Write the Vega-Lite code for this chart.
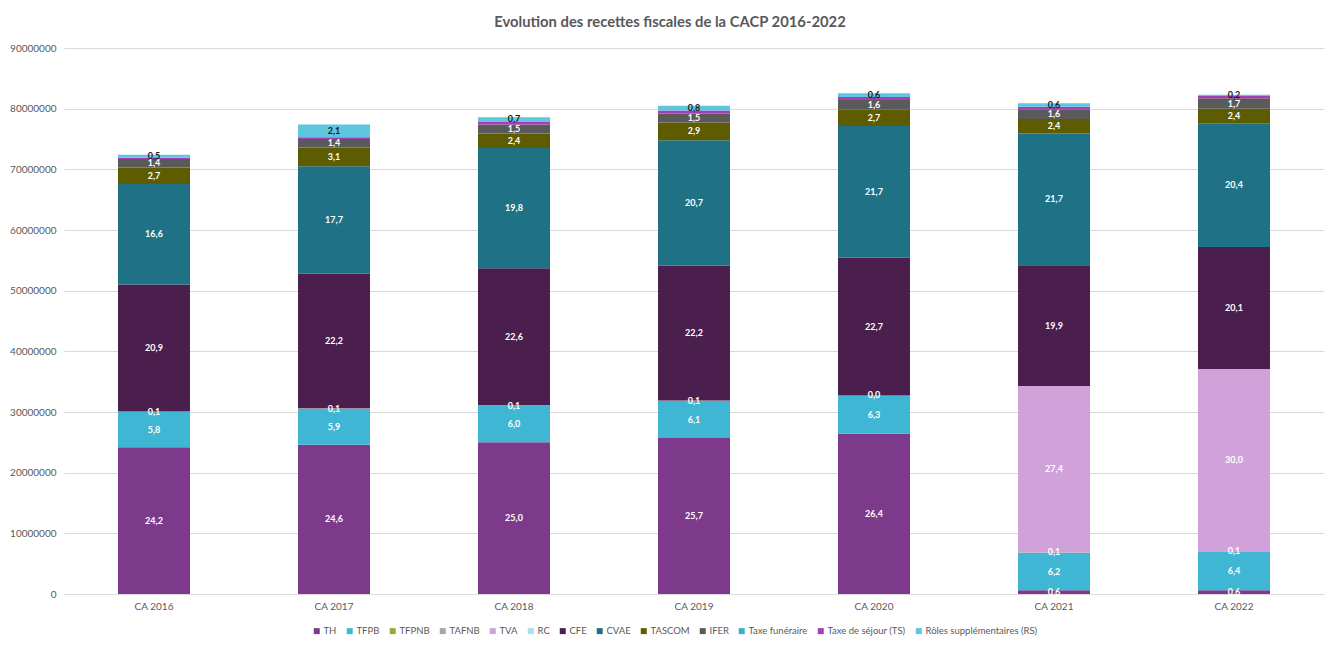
{
  "$schema": "https://vega.github.io/schema/vega-lite/v6.json",
  "autosize": "none",
  "width": 1260,
  "height": 546,
  "padding": {"left": 64, "top": 48, "right": 17, "bottom": 52},
  "background": "white",
  "config": {
    "font": "Lato",
    "view": {"stroke": null},
    "locale": {"number": {"decimal": ",", "thousands": " ", "grouping": [3], "currency": ["", " €"]}}
  },
  "title": {"text": "Evolution des recettes fiscales de la CACP 2016-2022", "fontSize": 14.8, "fontWeight": "bold", "color": "#595959", "anchor": "middle", "dx": -24, "offset": 13, "font": "Lato"},
  "data": {"values": [
    {"cat": "CA 2016", "s": "TH", "k": 1, "v": 24.2},
    {"cat": "CA 2016", "s": "TFPB", "k": 2, "v": 5.8},
    {"cat": "CA 2016", "s": "TAFNB", "k": 4, "v": 0.1},
    {"cat": "CA 2016", "s": "CFE", "k": 7, "v": 20.9},
    {"cat": "CA 2016", "s": "CVAE", "k": 8, "v": 16.6},
    {"cat": "CA 2016", "s": "TASCOM", "k": 9, "v": 2.7},
    {"cat": "CA 2016", "s": "IFER", "k": 10, "v": 1.4},
    {"cat": "CA 2016", "s": "Taxe de séjour (TS)", "k": 12, "v": 0.2},
    {"cat": "CA 2016", "s": "Rôles supplémentaires (RS)", "k": 13, "v": 0.5},
    {"cat": "CA 2017", "s": "TH", "k": 1, "v": 24.6},
    {"cat": "CA 2017", "s": "TFPB", "k": 2, "v": 5.9},
    {"cat": "CA 2017", "s": "TAFNB", "k": 4, "v": 0.1},
    {"cat": "CA 2017", "s": "CFE", "k": 7, "v": 22.2},
    {"cat": "CA 2017", "s": "CVAE", "k": 8, "v": 17.7},
    {"cat": "CA 2017", "s": "TASCOM", "k": 9, "v": 3.1},
    {"cat": "CA 2017", "s": "IFER", "k": 10, "v": 1.4},
    {"cat": "CA 2017", "s": "Taxe de séjour (TS)", "k": 12, "v": 0.3},
    {"cat": "CA 2017", "s": "Rôles supplémentaires (RS)", "k": 13, "v": 2.1},
    {"cat": "CA 2018", "s": "TH", "k": 1, "v": 25.0},
    {"cat": "CA 2018", "s": "TFPB", "k": 2, "v": 6.0},
    {"cat": "CA 2018", "s": "TAFNB", "k": 4, "v": 0.1},
    {"cat": "CA 2018", "s": "CFE", "k": 7, "v": 22.6},
    {"cat": "CA 2018", "s": "CVAE", "k": 8, "v": 19.8},
    {"cat": "CA 2018", "s": "TASCOM", "k": 9, "v": 2.4},
    {"cat": "CA 2018", "s": "IFER", "k": 10, "v": 1.5},
    {"cat": "CA 2018", "s": "Taxe de séjour (TS)", "k": 12, "v": 0.5},
    {"cat": "CA 2018", "s": "Rôles supplémentaires (RS)", "k": 13, "v": 0.7},
    {"cat": "CA 2019", "s": "TH", "k": 1, "v": 25.7},
    {"cat": "CA 2019", "s": "TFPB", "k": 2, "v": 6.1},
    {"cat": "CA 2019", "s": "TAFNB", "k": 4, "v": 0.1},
    {"cat": "CA 2019", "s": "CFE", "k": 7, "v": 22.2},
    {"cat": "CA 2019", "s": "CVAE", "k": 8, "v": 20.7},
    {"cat": "CA 2019", "s": "TASCOM", "k": 9, "v": 2.9},
    {"cat": "CA 2019", "s": "IFER", "k": 10, "v": 1.5},
    {"cat": "CA 2019", "s": "Taxe de séjour (TS)", "k": 12, "v": 0.5},
    {"cat": "CA 2019", "s": "Rôles supplémentaires (RS)", "k": 13, "v": 0.8},
    {"cat": "CA 2020", "s": "TH", "k": 1, "v": 26.4},
    {"cat": "CA 2020", "s": "TFPB", "k": 2, "v": 6.3},
    {"cat": "CA 2020", "s": "TAFNB", "k": 4, "v": 0.04},
    {"cat": "CA 2020", "s": "CFE", "k": 7, "v": 22.7},
    {"cat": "CA 2020", "s": "CVAE", "k": 8, "v": 21.7},
    {"cat": "CA 2020", "s": "TASCOM", "k": 9, "v": 2.7},
    {"cat": "CA 2020", "s": "IFER", "k": 10, "v": 1.6},
    {"cat": "CA 2020", "s": "Taxe de séjour (TS)", "k": 12, "v": 0.5},
    {"cat": "CA 2020", "s": "Rôles supplémentaires (RS)", "k": 13, "v": 0.6},
    {"cat": "CA 2021", "s": "TH", "k": 1, "v": 0.6},
    {"cat": "CA 2021", "s": "TFPB", "k": 2, "v": 6.2},
    {"cat": "CA 2021", "s": "TAFNB", "k": 4, "v": 0.1},
    {"cat": "CA 2021", "s": "TVA", "k": 5, "v": 27.4},
    {"cat": "CA 2021", "s": "CFE", "k": 7, "v": 19.9},
    {"cat": "CA 2021", "s": "CVAE", "k": 8, "v": 21.7},
    {"cat": "CA 2021", "s": "TASCOM", "k": 9, "v": 2.4},
    {"cat": "CA 2021", "s": "IFER", "k": 10, "v": 1.6},
    {"cat": "CA 2021", "s": "Taxe de séjour (TS)", "k": 12, "v": 0.4},
    {"cat": "CA 2021", "s": "Rôles supplémentaires (RS)", "k": 13, "v": 0.6},
    {"cat": "CA 2022", "s": "TH", "k": 1, "v": 0.6},
    {"cat": "CA 2022", "s": "TFPB", "k": 2, "v": 6.4},
    {"cat": "CA 2022", "s": "TAFNB", "k": 4, "v": 0.1},
    {"cat": "CA 2022", "s": "TVA", "k": 5, "v": 30.0},
    {"cat": "CA 2022", "s": "CFE", "k": 7, "v": 20.1},
    {"cat": "CA 2022", "s": "CVAE", "k": 8, "v": 20.4},
    {"cat": "CA 2022", "s": "TASCOM", "k": 9, "v": 2.4},
    {"cat": "CA 2022", "s": "IFER", "k": 10, "v": 1.7},
    {"cat": "CA 2022", "s": "Taxe de séjour (TS)", "k": 12, "v": 0.4},
    {"cat": "CA 2022", "s": "Rôles supplémentaires (RS)", "k": 13, "v": 0.2}
  ]},
  "transform": [
    {"stack": "v", "groupby": ["cat"], "sort": [{"field": "k", "order": "ascending"}], "as": ["v0", "v1"]},
    {"calculate": "(datum.v0 + datum.v1) / 2", "as": "mid"}
  ],
  "encoding": {
    "x": {"field": "cat", "type": "nominal", "title": null,
      "scale": {"paddingInner": 0.6, "paddingOuter": 0.3},
      "axis": {"labelAngle": 0, "labelFontSize": 10, "labelColor": "#595959", "domainColor": "#D9D9D9", "ticks": false, "labelPadding": 7}}
  },
  "layer": [
    {
      "mark": {"type": "bar"},
      "encoding": {
        "y": {"field": "v0", "type": "quantitative", "title": null,
          "scale": {"domain": [0, 90], "nice": false},
          "axis": {"values": [0, 10, 20, 30, 40, 50, 60, 70, 80, 90], "labelExpr": "format(datum.value * 1000000, 'd')", "labelFontSize": 10, "labelColor": "#595959", "domain": false, "ticks": false, "gridColor": "#D9D9D9", "labelPadding": 8}},
        "y2": {"field": "v1"},
        "color": {"field": "s", "type": "nominal", "title": null,
          "scale": {
            "domain": ["TH", "TFPB", "TFPNB", "TAFNB", "TVA", "RC", "CFE", "CVAE", "TASCOM", "IFER", "Taxe funéraire", "Taxe de séjour (TS)", "Rôles supplémentaires (RS)"],
            "range": ["#7D3A8A", "#3FB7D4", "#9BA63C", "#A6A6A6", "#D1A1D9", "#A9DEEA", "#4A1F4E", "#1F7285", "#5E5C00", "#5A5A5A", "#34B0D0", "#A83DB8", "#5EC6DD"]
          },
          "legend": {"orient": "none", "legendX": 248, "legendY": 578, "direction": "horizontal", "columns": 13, "symbolType": "square", "symbolSize": 36, "symbolStrokeWidth": 0, "labelFontSize": 9.5, "labelColor": "#595959", "columnPadding": 8, "labelOffset": 2}
        },
        "order": {"field": "k", "type": "quantitative"}
      }
    },
    {
      "transform": [{"filter": "datum.s !== 'Taxe de séjour (TS)'"}],
      "mark": {"type": "text", "fontSize": 9, "fontWeight": "bold", "baseline": "middle"},
      "encoding": {
        "y": {"field": "mid", "type": "quantitative"},
        "text": {"field": "v", "type": "quantitative", "format": ".1f"},
        "color": {"condition": {"test": "datum.s === 'Rôles supplémentaires (RS)'", "value": "#1A1A1A"}, "value": "white"}
      }
    }
  ]
}
